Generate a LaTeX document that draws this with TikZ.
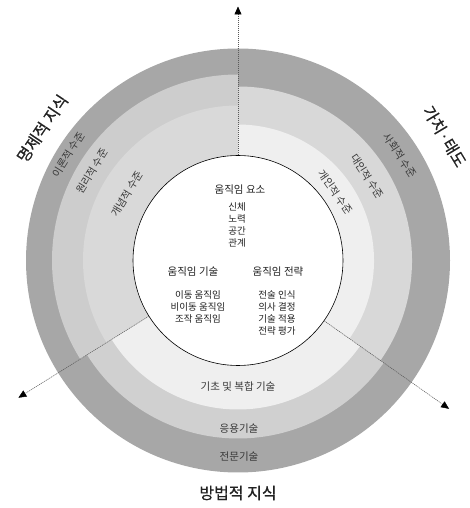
\documentclass[tikz,border=0pt]{standalone}
\usepackage{fontspec}
\setmainfont{Noto Sans CJK KR}
\newfontfamily\bigkr[FakeBold=0.6]{Noto Sans CJK KR}
\usetikzlibrary{arrows.meta}
\definecolor{ringdark}{HTML}{A7A7A7}
\definecolor{leftmid}{HTML}{CDCDCD}
\definecolor{leftlight}{HTML}{D9D9D9}
\definecolor{rightmid}{HTML}{D8D8D8}
\definecolor{rightlight}{HTML}{EFEFEF}
\definecolor{botmid}{HTML}{D0D0D0}
\definecolor{botlight}{HTML}{EFEFEF}
\definecolor{txt}{HTML}{222222}
\newcommand\ringpie[4]{\fill[#4] (C) -- ([shift={(#1:#3)}]C) arc[start angle=#1,end angle=#2,radius=#3] -- cycle;}
\begin{document}
\begin{tikzpicture}[
  bigl/.style={font=\bigkr\fontsize{16}{18}\selectfont, text=txt, inner sep=0pt},
  ringl/.style={font=\fontsize{10.5}{12}\selectfont, text=txt!90, inner sep=0pt},
  headl/.style={font=\fontsize{10.5}{12}\selectfont, text=txt, inner sep=0pt},
  iteml/.style={font=\fontsize{9.5}{12.3}\selectfont, text=txt, inner sep=0pt, align=center},
  axisline/.style={draw=black!65, line width=0.5pt, dash pattern=on 1.2pt off 0.8pt,
    -{Triangle[length=8pt,width=7pt,color=black]}}
]
\useasboundingbox (0,0) rectangle (470pt,508pt);
\coordinate (C) at (238pt,247.5pt);
% outer dark ring
\fill[ringdark] (C) circle[radius=212pt];
% left sector (propositional knowledge)
\ringpie{90}{212}{186pt}{leftmid}
\ringpie{90}{212}{155pt}{leftlight}
% right sector (values and attitudes)
\ringpie{-35}{90}{174pt}{rightmid}
\ringpie{-35}{90}{136pt}{rightlight}
% bottom sector (procedural knowledge)
\ringpie{212}{325}{178pt}{botmid}
\ringpie{212}{325}{149pt}{botlight}
% core
\node[circle, draw=black, line width=0.6pt, fill=white, minimum size=210pt, inner sep=0pt] (core) at (C) {};
% axes
\coordinate (tipU) at ([shift={(90:254pt)}]C);
\coordinate (tipL) at ([shift={(212:259pt)}]C);
\coordinate (tipR) at ([shift={(-35.1:258pt)}]C);
\draw[axisline] (core.90) -- (tipU);
\draw[axisline] (core.212) -- (tipL);
\draw[axisline] (core.-35.1) -- (tipR);
% big labels
\node[bigl, rotate=56] (propk) at ([shift={(146:236pt)}]C) {명제적 지식};
\node[bigl, rotate=-59] (valk) at ([shift={(31:241pt)}]C) {가치·태도};
\node[bigl] (prock) at (238pt,15pt) {방법적 지식};
% left ring labels
\node[ringl, rotate=58] (l1) at ([shift={(148:200pt)}]C) {이론적 수준};
\node[ringl, rotate=58.5] (l2) at ([shift={(148.5:171pt)}]C) {원리적 수준};
\node[ringl, rotate=59] (l3) at ([shift={(149:129pt)}]C) {개념적 수준};
% right ring labels
\node[ringl, rotate=-57] (r1) at ([shift={(33:193pt)}]C) {사회적 수준};
\node[ringl, rotate=-57] (r2) at ([shift={(33:154pt)}]C) {대인적 수준};
\node[ringl, rotate=-55] (r3) at ([shift={(35:119pt)}]C) {개인적 수준};
% bottom ring labels
\node[ringl] (b1) at (238pt,121pt) {기초 및 복합 기술};
\node[ringl] (b2) at (239pt,79pt) {응용기술};
\node[ringl] (b3) at (239pt,51pt) {전문기술};
% core contents
\node[headl] (elem) at (240pt,318pt) {움직임 요소};
\node[iteml, anchor=north] (elemlist) at (237pt,306pt) {신체\\노력\\공간\\관계};
\node[headl] (skill) at (193pt,236pt) {움직임 기술};
\node[headl] (strat) at (278pt,236pt) {움직임 전략};
\node[iteml, anchor=north] (skilllist) at (198pt,218pt) {이동 움직임\\비이동 움직임\\조작 움직임};
\node[iteml, anchor=north] (stratlist) at (277pt,218pt) {전술 인식\\의사 결정\\기술 적용\\전략 평가};
\end{tikzpicture}
\end{document}
